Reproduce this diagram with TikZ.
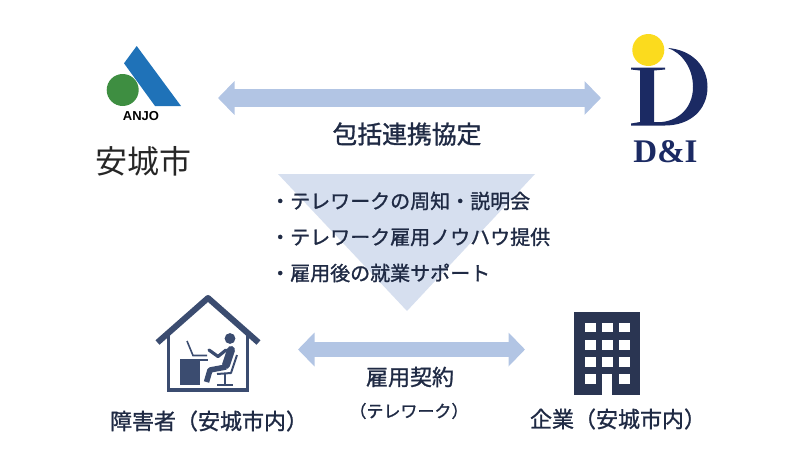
\documentclass[tikz,border=0pt]{standalone}
\usepackage{fontspec}
\usepackage{tikz}
\usetikzlibrary{arrows.meta}
\setmainfont{Noto Sans CJK JP}
\newfontfamily\medfont[FakeBold=1.2]{Noto Sans CJK JP}
\newfontfamily\logofont{Liberation Serif}
\newfontfamily\anjofont{Liberation Sans}
\definecolor{arrowblue}{HTML}{B2C5E4}
\definecolor{triblue}{HTML}{D6DFEF}
\definecolor{navy}{HTML}{1F2A44}
\definecolor{housenavy}{HTML}{3B4C70}
\definecolor{blocknavy}{HTML}{2A3552}
\definecolor{logoblue}{HTML}{1F72B8}
\definecolor{logogreen}{HTML}{3E8E41}
\definecolor{logoyellow}{HTML}{FBDB1E}
\definecolor{logonavy}{HTML}{1B2A63}
\tikzset{
	bigarrow/.style={draw=arrowblue, {Triangle[length=16.5,width=33]}-{Triangle[length=16.5,width=33]}},
	label/.style={inner sep=0, text=navy, font=\medfont\fontsize{22}{24}\selectfont},
	bullet/.style={label, anchor=west, font=\medfont\fontsize{20}{22}\selectfont}
}
\begin{document}
\begin{tikzpicture}[x=1pt,y=-1pt]
\useasboundingbox (0,0) rectangle (800,450);

% the funnel goes under its text
\fill[triblue] (278,174)--(535,174)--(407,311)--cycle;

% anjo logo
\fill[logoblue] (136.7,46)--(181,106)--(155,106)--(124,63.3)--cycle;
\fill[logogreen] (122.7,90) circle (16);
\node[inner sep=0, text=black, font=\anjofont\bfseries\fontsize{13}{13}\selectfont] (anjo) at (141,116) {ANJO};
\node[inner sep=0, text=black!85, font=\fontsize{32}{34}\selectfont] (anjoname) at (143,161) {安城市};

% d and i logo
\fill[logoyellow] (648.3,50) circle (16);
\fill[logonavy] (631,67.5)--(665,67.5)--(665,69.5)--(654,70.5)--(654,122)
	.. controls (675,124) and (693,110) .. (693,87)
	.. controls (693,68) and (682,53) .. (668,48)
	.. controls (692,50) and (707.5,66) .. (707.5,87)
	.. controls (707.5,110) and (690,125.5) .. (665,125.5)
	--(631,125.5)--(631,123.5)--(640,122)--(640,70.5)--(631,69.5)--cycle;
\node[inner sep=0, text=logonavy, font=\logofont\bfseries\fontsize{33}{33}\selectfont] (dandi) at (665.5,152) {D\&I};

% house
\draw[housenavy, line width=6, line join=round] (157.5,342.5)--(208,298)--(258.5,342.5);
\draw[housenavy, line width=3.4] (168.5,332)--(168.5,390)--(247.5,390)--(247.5,332);
\fill[housenavy] (179.5,358.5) rectangle (199.5,385);
\fill[housenavy] (199.5,358.5) rectangle (208,361);
\draw[housenavy, line width=1.6] (187,341)--(193,355.5)--(207,355.5);
\fill[housenavy] (230,338.5) circle (5.4);
\draw[housenavy, line width=8, line cap=round] (231,350)--(226,365);
\draw[housenavy, line width=5.5, line join=round] (226,367)--(210,370)--(206.5,382);
\draw[housenavy, line width=3.2, line join=round, line cap=round] (209,350)--(218,356.5)--(226,350);
\draw[housenavy, line width=2, line join=round] (237,355)--(231,373)--(217,374);
\draw[housenavy, line width=1.6] (225,374)--(225,384) (217,385)--(233,385);

% office block
\fill[blocknavy] (574.3,312.3) rectangle (640,395);
\foreach \x in {585,602.3,619}{
	\foreach \y in {322.7,340,357.3}{
		\fill[white] (\x,\y) rectangle +(10.5,9.5);
	}
}
\fill[white] (585,374.3) rectangle +(10.5,9.5);
\fill[white] (619,374.3) rectangle +(10.5,9.5);
\fill[white] (602.3,374.3) rectangle (612.3,395);

% arrows
\coordinate (topleft) at (218,98);
\coordinate (topright) at (601,98);
\coordinate (lowleft) at (298,349.5);
\coordinate (lowright) at (525,349.5);
\draw[bigarrow, line width=18] (topleft)--(topright);
\draw[bigarrow, line width=15] (lowleft)--(lowright);

% text
\node[label, font=\medfont\fontsize{24.8}{26}\selectfont] (pact) at (407,134) {包括連携協定};
\node[bullet] (item1) at (270,201) {・テレワークの周知・説明会};
\node[bullet] (item2) at (270,237) {・テレワーク雇用ノウハウ提供};
\node[bullet] (item3) at (270,273) {・雇用後の就業サポート};
\node[label] (contract) at (410,377) {雇用契約};
\node[label, font=\medfont\fontsize{17}{18}\selectfont] (telework) at (409,411) {（テレワーク）};
\node[label] (person) at (209,421) {障害者（安城市内）};
\node[label] (company) at (618,419) {企業（安城市内）};
\end{tikzpicture}
\end{document}
